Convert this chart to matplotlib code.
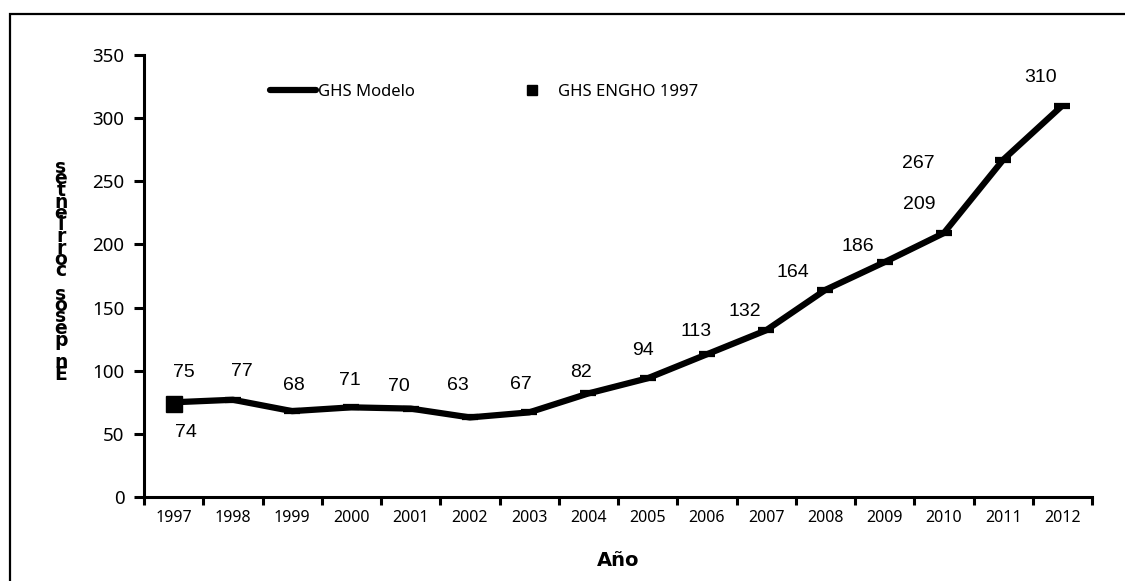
import matplotlib
matplotlib.use("Agg")
import matplotlib.pyplot as plt
from matplotlib.lines import Line2D
from matplotlib.patches import Rectangle

# ---- data ----
years = ["1997", "1998", "1999", "2000", "2001", "2002", "2003", "2004",
         "2005", "2006", "2007", "2008", "2009", "2010", "2011", "2012"]
ghs_modelo = [75, 77, 68, 71, 70, 63, 67, 82, 94, 113, 132, 164, 186, 209, 267, 310]
engho_year = ["1997"]
engho_value = [74]
y_ticks = [0, 50, 100, 150, 200, 250, 300, 350]
series_names = ["GHS Modelo", "GHS ENGHO 1997"]
x_title = "Año"
y_title = "En pesos corrientes"

# label offsets (pixels) relative to each point -- layout only
modelo_label_offsets = [(10, 30), (9, 28), (2, 26), (-2, 27), (-12, 22), (-12, 32),
                        (-8, 28), (-7, 21), (-5, 28), (-11, 23), (-21, 19), (-33, 17),
                        (-27, 16), (-25, 29), (-85, -4), (-22, 28)]
engho_label_offsets = [(12, -29)]

W, H = 1125, 581
fig = plt.figure(figsize=(W / 100, H / 100), dpi=100)
fig.patch.set_facecolor("white")

left, right, bottom_px, top_px = 144, 1092, 497, 55
ax = fig.add_axes([left / W, 1 - bottom_px / H, (right - left) / W, (bottom_px - top_px) / H])

tick_font = "Noto Sans"
x = list(range(len(years)))
ax.plot(x, ghs_modelo, color="black", lw=4.5, marker="_", ms=11, mew=4.5,
        solid_capstyle="butt", zorder=3)
ex = [years.index(y) for y in engho_year]
ax.plot(ex, engho_value, linestyle="none", marker="s", ms=11, color="black", zorder=4)

for xi, v, (dx, dy) in zip(x, ghs_modelo, modelo_label_offsets):
    ax.annotate(str(v), (xi, v), xytext=(dx, dy), textcoords="offset pixels",
                ha="center", va="center", fontsize=14, family="Liberation Sans")
for xi, v, (dx, dy) in zip(ex, engho_value, engho_label_offsets):
    ax.annotate(str(v), (xi, v), xytext=(dx, dy), textcoords="offset pixels",
                ha="center", va="center", fontsize=14, family="Liberation Sans")

ax.set_xlim(-0.5, len(years) - 0.5)
ax.set_ylim(0, 350)
ax.set_yticks(y_ticks)
ax.set_yticklabels([str(t) for t in y_ticks], fontsize=13.5, family=tick_font)
ax.set_xticks([i - 0.5 for i in range(len(years) + 1)])
ax.set_xticklabels([""] * (len(years) + 1))
ax.set_xticks(x, minor=True)
ax.set_xticklabels(years, minor=True, fontsize=11.5, family=tick_font)
ax.tick_params(axis="x", which="minor", length=0, pad=9)
ax.tick_params(axis="x", which="major", length=6, width=2.2, direction="out")
ax.tick_params(axis="y", length=7, width=2.2, direction="out", pad=7)

for s in ["top", "right"]:
    ax.spines[s].set_visible(False)
for s in ["left", "bottom"]:
    ax.spines[s].set_linewidth(2.2)

ax.text(0.5, -0.143, x_title, transform=ax.transAxes, ha="center", va="center",
        fontsize=14, fontweight="bold", family="DejaVu Sans")

# stacked y title (reversed characters, as in the reference)
fig.text(61 / W, 1 - 271 / H, "\n".join(reversed(y_title)), ha="center", va="center",
         fontsize=13.5, fontweight="bold", family="DejaVu Sans", linespacing=0.5)

handles = [Line2D([], [], color="black", lw=4.5, solid_capstyle="round"),
           Line2D([], [], color="black", marker="s", ms=7, linestyle="none")]
leg = ax.legend(handles, series_names, ncol=2, frameon=False, loc="center left",
                bbox_to_anchor=((270 - left) / (right - left), (bottom_px - 92) / (bottom_px - top_px)),
                handlelength=2.75, handletextpad=0.15, columnspacing=5.65,
                borderaxespad=0, borderpad=0,
                prop={"family": tick_font, "size": 12})

# outer border (only left and top edges visible in the picture)
fig.patches.append(Rectangle((10 / W, -0.2), 2.0, (H - 14) / H + 0.2, transform=fig.transFigure,
                             fill=False, edgecolor="black", lw=1.6))

fig.savefig("out.png", dpi=100, facecolor="white")
